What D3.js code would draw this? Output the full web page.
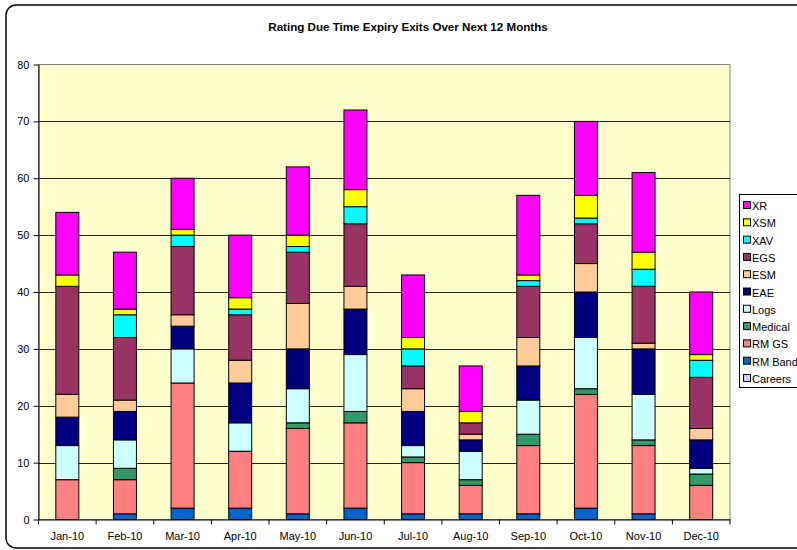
<!DOCTYPE html>
<html><head><meta charset="utf-8">
<script src="https://cdn.jsdelivr.net/npm/d3@7"></script>
<style>body{margin:0;background:#fff;} text{font-family:Arial,"Liberation Sans",sans-serif;}</style>
</head><body>
<svg id="c" width="797" height="550"></svg>
<script>
const months = ["Jan-10","Feb-10","Mar-10","Apr-10","May-10","Jun-10","Jul-10","Aug-10","Sep-10","Oct-10","Nov-10","Dec-10"];
const seriesNames = ["Careers","RM Band","RM GS","Medical","Logs","EAE","ESM","EGS","XAV","XSM","XR"];
const colors = ["#CCCCFF","#0066CC","#FF8080","#339966","#CCFFFF","#000080","#FFCC99","#993366","#00FFFF","#FFFF00","#FF00FF"];
const careers = [0,0,0,0,0,0,0,0,0,0,0,0];
const rmBand  = [0,1,2,2,1,2,1,1,1,2,1,0];
const rmGS    = [7,6,22,10,15,15,9,5,12,20,12,6];
const medical = [0,2,0,0,1,2,1,1,2,1,1,2];
const logs    = [6,5,6,5,6,10,2,5,6,9,8,1];
const eae     = [5,5,4,7,7,8,6,2,6,8,8,5];
const esm     = [4,2,2,4,8,4,4,1,5,5,1,2];
const egs     = [19,11,12,8,9,11,4,2,9,7,10,9];
const xav     = [0,4,2,1,1,3,3,0,1,1,3,3];
const xsm     = [2,1,1,2,2,3,2,2,1,4,3,1];
const xr      = [11,10,9,11,12,14,11,8,14,13,14,11];
const yTicks  = [0,10,20,30,40,50,60,70,80];

const seriesVals = [careers,rmBand,rmGS,medical,logs,eae,esm,egs,xav,xsm,xr];
const table = months.map((m,i)=>{const o={month:m}; seriesNames.forEach((s,j)=>o[s]=seriesVals[j][i]); return o;});
const stack = d3.stack().keys(seriesNames)(table);

const svg = d3.select("#c");
svg.append("rect").attr("x",6).attr("y",5).attr("width",810).attr("height",543)
  .attr("rx",10).attr("fill","#fff").attr("stroke","#000").attr("stroke-width",1.5);

svg.append("text").attr("x",408).attr("y",31).attr("text-anchor","middle")
  .attr("font-size",11.6).attr("font-weight","bold").text("Rating Due Time Expiry Exits Over Next 12 Months");

const L=38.5, R=730, T=64.5, B=519.5;
const y = d3.scaleLinear().domain([0,80]).range([B,T]);

svg.append("rect").attr("x",L).attr("y",T).attr("width",R-L).attr("height",B-T)
  .attr("fill","#FFFFCC").attr("stroke","#808080").attr("stroke-width",1);

svg.append("g").selectAll("line").data(yTicks.filter(d=>d>0&&d<80)).join("line")
  .attr("x1",L).attr("x2",R).attr("y1",d=>Math.round(y(d))+0.5).attr("y2",d=>Math.round(y(d))+0.5)
  .attr("stroke","#222").attr("stroke-width",1);

const xb = d3.scaleBand().domain(months).range([L,R]);
svg.append("g").selectAll("g").data(stack).join("g").attr("fill",(d,i)=>colors[i])
  .selectAll("rect").data(d=>d.filter(p=>p[1]-p[0]>0)).join("rect")
  .attr("x",d=>xb(d.data.month)+xb.bandwidth()/2-11.5)
  .attr("width",23)
  .attr("y",d=>y(d[1])).attr("height",d=>y(d[0])-y(d[1]))
  .attr("stroke","#000").attr("stroke-width",1);

const yAxis = svg.append("g").attr("transform",`translate(${L},0)`)
  .call(d3.axisLeft(y).tickValues(yTicks).tickSize(5).tickSizeOuter(0));
yAxis.select(".domain").attr("stroke","#000");
yAxis.selectAll("text").attr("font-size",11).attr("fill","#000").attr("x",-9);
const xAxis = svg.append("g").attr("transform",`translate(0,${B})`)
  .call(d3.axisBottom(xb).tickSize(0).tickSizeOuter(0));
xAxis.select(".domain").attr("stroke","#000");
xAxis.selectAll("text").attr("font-size",11).attr("fill","#000").attr("dy","1.6em");
svg.append("g").selectAll("line").data(d3.range(months.length+1)).join("line")
  .attr("x1",i=>L+i*xb.step()).attr("x2",i=>L+i*xb.step()).attr("y1",B).attr("y2",B+5).attr("stroke","#000");

const lg = svg.append("g");
lg.append("rect").attr("x",739.5).attr("y",194.5).attr("width",70).attr("height",193)
  .attr("fill","#fff").attr("stroke","#000");
const legItems = seriesNames.slice().reverse();
const legCols = colors.slice().reverse();
legItems.forEach((s,i)=>{
  const yy = 206 + i*17.3;
  lg.append("rect").attr("x",743.5).attr("y",yy-4.5).attr("width",7).attr("height",7)
    .attr("fill",legCols[i]).attr("stroke","#000");
  lg.append("text").attr("x",752).attr("y",yy+4).attr("font-size",11).text(s);
});
</script>
</body></html>
